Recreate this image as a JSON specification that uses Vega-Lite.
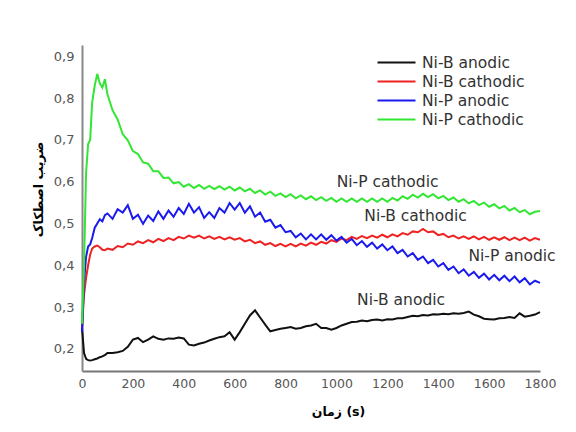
{
  "$schema": "https://vega.github.io/schema/vega-lite/v6.json",
  "width": 458,
  "height": 326,
  "autosize": {"type": "none"},
  "padding": {"left": 82, "top": 45, "right": 36, "bottom": 61},
  "background": "white",
  "config": {"view": {"stroke": null}, "font": "DejaVu Sans"},
  "datasets": {
    "curves": [
      {"t":0,"K":0.25,"R":0.25,"B":0.24,"G":0.26},
      {"t":8,"K":0.19,"R":0.33,"B":0.36,"G":0.40},
      {"t":16,"K":0.176,"R":0.37,"B":0.42,"G":0.62},
      {"t":24,"K":0.173,"R":0.40,"B":0.445,"G":0.69},
      {"t":32,"K":0.172,"R":0.425,"B":0.45,"G":0.70},
      {"t":40,"K":0.173,"R":0.44,"B":0.465,"G":0.79},
      {"t":50,"K":0.175,"R":0.445,"B":0.49,"G":0.83},
      {"t":60,"K":0.177,"R":0.447,"B":0.50,"G":0.858},
      {"t":70,"K":0.18,"R":0.443,"B":0.51,"G":0.835},
      {"t":80,"K":0.182,"R":0.437,"B":0.505,"G":0.825},
      {"t":90,"K":0.185,"R":0.436,"B":0.52,"G":0.845},
      {"t":100,"K":0.19,"R":0.440,"B":0.524,"G":0.809},
      {"t":120,"K":0.19,"R":0.437,"B":0.511,"G":0.771},
      {"t":140,"K":0.192,"R":0.446,"B":0.534,"G":0.749},
      {"t":160,"K":0.195,"R":0.443,"B":0.526,"G":0.714},
      {"t":180,"K":0.205,"R":0.452,"B":0.544,"G":0.699},
      {"t":200,"K":0.222,"R":0.449,"B":0.511,"G":0.673},
      {"t":220,"K":0.226,"R":0.457,"B":0.521,"G":0.666},
      {"t":240,"K":0.216,"R":0.453,"B":0.499,"G":0.646},
      {"t":260,"K":0.222,"R":0.460,"B":0.519,"G":0.643},
      {"t":280,"K":0.23,"R":0.455,"B":0.506,"G":0.625},
      {"t":300,"K":0.224,"R":0.463,"B":0.529,"G":0.625},
      {"t":320,"K":0.222,"R":0.458,"B":0.511,"G":0.609},
      {"t":340,"K":0.225,"R":0.465,"B":0.531,"G":0.610},
      {"t":360,"K":0.224,"R":0.460,"B":0.516,"G":0.596},
      {"t":380,"K":0.227,"R":0.468,"B":0.537,"G":0.599},
      {"t":400,"K":0.225,"R":0.464,"B":0.523,"G":0.588},
      {"t":420,"K":0.21,"R":0.471,"B":0.547,"G":0.594},
      {"t":440,"K":0.208,"R":0.466,"B":0.526,"G":0.585},
      {"t":460,"K":0.212,"R":0.471,"B":0.539,"G":0.592},
      {"t":480,"K":0.215,"R":0.464,"B":0.513,"G":0.583},
      {"t":500,"K":0.22,"R":0.469,"B":0.527,"G":0.590},
      {"t":520,"K":0.224,"R":0.463,"B":0.513,"G":0.582},
      {"t":540,"K":0.228,"R":0.468,"B":0.537,"G":0.589},
      {"t":560,"K":0.23,"R":0.462,"B":0.526,"G":0.581},
      {"t":580,"K":0.24,"R":0.467,"B":0.549,"G":0.588},
      {"t":600,"K":0.222,"R":0.461,"B":0.533,"G":0.579},
      {"t":620,"K":0.24,"R":0.465,"B":0.549,"G":0.586},
      {"t":640,"K":0.26,"R":0.457,"B":0.526,"G":0.577},
      {"t":660,"K":0.28,"R":0.461,"B":0.541,"G":0.583},
      {"t":680,"K":0.292,"R":0.453,"B":0.516,"G":0.573},
      {"t":700,"K":0.275,"R":0.457,"B":0.526,"G":0.579},
      {"t":720,"K":0.258,"R":0.449,"B":0.504,"G":0.569},
      {"t":740,"K":0.242,"R":0.453,"B":0.509,"G":0.576},
      {"t":760,"K":0.245,"R":0.446,"B":0.490,"G":0.566},
      {"t":780,"K":0.248,"R":0.451,"B":0.496,"G":0.572},
      {"t":800,"K":0.25,"R":0.445,"B":0.479,"G":0.563},
      {"t":820,"K":0.252,"R":0.451,"B":0.482,"G":0.570},
      {"t":840,"K":0.248,"R":0.445,"B":0.467,"G":0.560},
      {"t":860,"K":0.25,"R":0.452,"B":0.476,"G":0.567},
      {"t":880,"K":0.254,"R":0.447,"B":0.462,"G":0.558},
      {"t":900,"K":0.256,"R":0.454,"B":0.474,"G":0.565},
      {"t":920,"K":0.26,"R":0.449,"B":0.462,"G":0.556},
      {"t":940,"K":0.25,"R":0.456,"B":0.474,"G":0.563},
      {"t":960,"K":0.25,"R":0.452,"B":0.461,"G":0.554},
      {"t":980,"K":0.246,"R":0.460,"B":0.472,"G":0.561},
      {"t":1000,"K":0.25,"R":0.456,"B":0.459,"G":0.552},
      {"t":1020,"K":0.256,"R":0.464,"B":0.468,"G":0.560},
      {"t":1040,"K":0.26,"R":0.460,"B":0.454,"G":0.552},
      {"t":1060,"K":0.264,"R":0.468,"B":0.463,"G":0.560},
      {"t":1080,"K":0.265,"R":0.463,"B":0.448,"G":0.552},
      {"t":1100,"K":0.268,"R":0.470,"B":0.458,"G":0.560},
      {"t":1120,"K":0.266,"R":0.465,"B":0.444,"G":0.552},
      {"t":1140,"K":0.269,"R":0.471,"B":0.454,"G":0.560},
      {"t":1160,"K":0.27,"R":0.466,"B":0.440,"G":0.552},
      {"t":1180,"K":0.268,"R":0.473,"B":0.450,"G":0.560},
      {"t":1200,"K":0.271,"R":0.467,"B":0.436,"G":0.552},
      {"t":1220,"K":0.27,"R":0.474,"B":0.445,"G":0.561},
      {"t":1240,"K":0.273,"R":0.469,"B":0.429,"G":0.555},
      {"t":1260,"K":0.273,"R":0.477,"B":0.437,"G":0.565},
      {"t":1280,"K":0.276,"R":0.473,"B":0.421,"G":0.559},
      {"t":1300,"K":0.279,"R":0.481,"B":0.429,"G":0.569},
      {"t":1320,"K":0.278,"R":0.479,"B":0.413,"G":0.562},
      {"t":1340,"K":0.281,"R":0.487,"B":0.421,"G":0.571},
      {"t":1360,"K":0.28,"R":0.479,"B":0.405,"G":0.563},
      {"t":1380,"K":0.283,"R":0.481,"B":0.413,"G":0.570},
      {"t":1400,"K":0.282,"R":0.472,"B":0.397,"G":0.560},
      {"t":1420,"K":0.284,"R":0.475,"B":0.405,"G":0.566},
      {"t":1440,"K":0.283,"R":0.467,"B":0.389,"G":0.556},
      {"t":1460,"K":0.285,"R":0.471,"B":0.397,"G":0.562},
      {"t":1480,"K":0.284,"R":0.464,"B":0.381,"G":0.552},
      {"t":1500,"K":0.286,"R":0.469,"B":0.390,"G":0.558},
      {"t":1520,"K":0.289,"R":0.463,"B":0.375,"G":0.548},
      {"t":1540,"K":0.282,"R":0.469,"B":0.384,"G":0.554},
      {"t":1560,"K":0.278,"R":0.462,"B":0.370,"G":0.544},
      {"t":1580,"K":0.272,"R":0.468,"B":0.380,"G":0.550},
      {"t":1600,"K":0.271,"R":0.461,"B":0.366,"G":0.540},
      {"t":1620,"K":0.27,"R":0.467,"B":0.377,"G":0.546},
      {"t":1640,"K":0.273,"R":0.461,"B":0.364,"G":0.536},
      {"t":1660,"K":0.274,"R":0.467,"B":0.375,"G":0.542},
      {"t":1680,"K":0.276,"R":0.460,"B":0.362,"G":0.531},
      {"t":1700,"K":0.274,"R":0.466,"B":0.373,"G":0.537},
      {"t":1720,"K":0.285,"R":0.460,"B":0.359,"G":0.527},
      {"t":1740,"K":0.277,"R":0.466,"B":0.369,"G":0.532},
      {"t":1760,"K":0.279,"R":0.459,"B":0.354,"G":0.522},
      {"t":1780,"K":0.282,"R":0.465,"B":0.363,"G":0.528},
      {"t":1800,"K":0.288,"R":0.461,"B":0.358,"G":0.530}
    ],
    "labels": [
      {"t":1201,"v":0.600,"label":"Ni-P cathodic"},
      {"t":1311,"v":0.518,"label":"Ni-B cathodic"},
      {"t":1690,"v":0.421,"label":"Ni-P anodic"},
      {"t":1254,"v":0.317,"label":"Ni-B anodic"}
    ]
  },
  "layer": [
    {
      "data": {"name": "curves"},
      "transform": [{"fold": ["K","R","B","G"], "as": ["series","v"]}],
      "mark": {"type": "line", "strokeWidth": 2, "interpolate": "linear"},
      "encoding": {
        "x": {
          "field": "t", "type": "quantitative",
          "scale": {"domain": [0,1800], "nice": false},
          "axis": {
            "title": "زمان (s)",
            "values": [0,200,400,600,800,1000,1200,1400,1600,1800],
            "format": "d",
            "grid": false, "ticks": false,
            "domainColor": "#777777", "domainWidth": 2,
            "labelFont": "DejaVu Sans", "labelFontSize": 12.5, "labelColor": "#555555",
            "labelPadding": 6, "labelFlush": false,
            "titleFont": "DejaVu Sans", "titleFontSize": 12.5, "titleFontWeight": "bold", "titleColor": "#000000",
            "titleX": 256, "titleY": 40, "titleBaseline": "middle", "titleAlign": "center"
          }
        },
        "y": {
          "field": "v", "type": "quantitative",
          "scale": {"domain": [0.147,0.927], "nice": false, "zero": false},
          "axis": {
            "title": "ضریب اصطکاک",
            "values": [0.2,0.3,0.4,0.5,0.6,0.7,0.8,0.9],
            "labelExpr": "replace(format(datum.value, '.1f'), '.', ',')",
            "grid": false, "ticks": false,
            "domainColor": "#888888", "domainWidth": 2,
            "labelFont": "DejaVu Sans", "labelFontSize": 13, "labelColor": "#555555",
            "labelPadding": 8,
            "titleFont": "DejaVu Sans", "titleFontSize": 12.5, "titleFontWeight": "bold", "titleColor": "#000000",
            "titleX": -44, "titleY": 144, "titleBaseline": "middle", "titleAlign": "center", "titleAngle": -90
          }
        },
        "color": {
          "field": "series", "type": "nominal",
          "scale": {"domain": ["K","R","B","G"], "range": ["#111111","#ee2222","#1a1aee","#33e633"]},
          "legend": {
            "orient": "none", "legendX": 304, "legendY": 7,
            "title": null,
            "symbolType": "M-2,0L2,0", "symbolSize": 361, "symbolStrokeWidth": 2,
            "labelExpr": "datum.label == 'K' ? 'Ni-B anodic' : datum.label == 'R' ? 'Ni-B cathodic' : datum.label == 'B' ? 'Ni-P anodic' : 'Ni-P cathodic'",
            "labelFont": "DejaVu Sans", "labelFontSize": 15.5, "labelColor": "#333333",
            "labelOffset": 15, "rowPadding": 0
          }
        }
      }
    },
    {
      "data": {"name": "labels"},
      "mark": {"type": "text", "font": "DejaVu Sans", "fontSize": 15.5, "color": "#333333", "align": "center", "baseline": "middle"},
      "encoding": {
        "x": {"field": "t", "type": "quantitative"},
        "y": {"field": "v", "type": "quantitative"},
        "text": {"field": "label"}
      }
    }
  ]
}
